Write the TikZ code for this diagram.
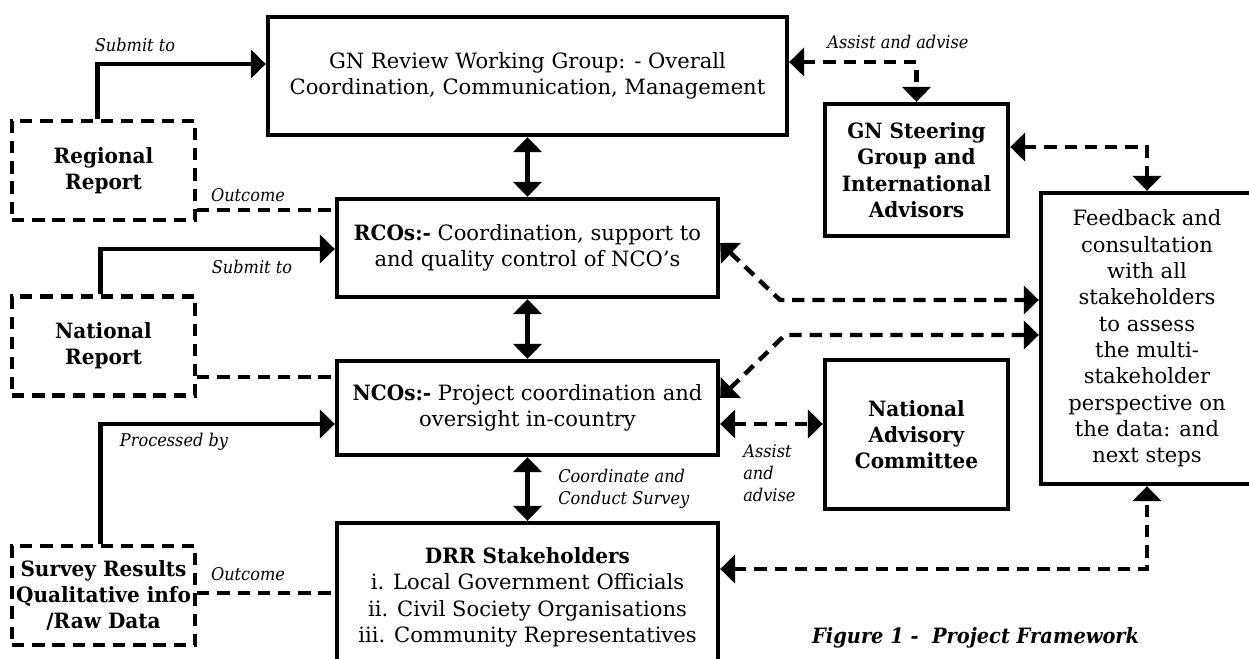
\documentclass[tikz,border=0pt]{standalone}
\usepackage{fontspec}
\setmainfont{DejaVu Serif}[BoldFeatures={FakeStretch=0.95},
  ItalicFeatures={FakeStretch=0.92}, BoldItalicFeatures={FakeStretch=0.92}]
\usetikzlibrary{arrows.meta}

\begin{document}
\begin{tikzpicture}[
  x=0.02cm, y=-0.02cm,
  every node/.style={font=\fontsize{12}{15}\selectfont},
  box/.style={draw, line width=2.5pt, align=center, inner sep=0pt},
  report/.style={box, dash pattern=on 7pt off 4.5pt,
    font=\fontsize{12}{15}\selectfont\bfseries,
    minimum width=3.66cm, minimum height=1.98cm},
  panel/.style={box, font=\fontsize{12}{15}\selectfont\bfseries,
    minimum width=3.66cm},
  lbl/.style={font=\fontsize{10}{12.5}\selectfont\itshape, inner sep=0pt},
  link/.style={line width=2.5pt},
  dlink/.style={link, dash pattern=on 7pt off 4.5pt},
  >={Triangle[length=8.5pt,width=16pt]}]
  \clip (0,0) rectangle (1249,659);
  % middle column
  \node[box, minimum width=10.38cm, minimum height=2.36cm] (gnr) at (527.5,76)
    {GN Review Working Group: - Overall\\ Coordination, Communication, Management};
  \node[box, minimum width=7.62cm, minimum height=1.96cm] (rco) at (527.5,248)
    {\textbf{RCOs:-} Coordination, support to\\ and quality control of NCO's};
  \node[box, minimum width=7.62cm, minimum height=1.88cm] (nco) at (527.5,408)
    {\textbf{NCOs:-} Project coordination and\\ oversight in-country};
  \node[box, minimum width=7.62cm, minimum height=2.98cm] (drr) at (527.5,597.5)
    {\textbf{DRR Stakeholders}\\ i. Local Government Officials\\
     ii. Civil Society Organisations\\ iii. Community Representatives};
  % reports
  \node[report] (rreg) at (103.5,170.5) {Regional\\ Report};
  \node[report] (rnat) at (103.5,346) {National\\ Report};
  \node[report] (rsur) at (103.5,595.5) {Survey Results\\ Qualitative info\\ /Raw Data};
  % right side
  \node[panel, minimum height=2.64cm] (gns) at (916.5,170)
    {GN Steering\\ Group and\\ International\\ Advisors};
  \node[panel, minimum height=2.98cm] (nac) at (916.5,434.5)
    {National\\ Advisory\\ Committee};
  \node[box, minimum width=4.24cm, minimum height=5.82cm] (fb) at (1147,338.5)
    {Feedback and\\ consultation\\ with all\\ stakeholders\\ to assess\\ the multi-\\
     stakeholder\\ perspective on\\ the data: and\\ next steps};

  \draw[link,->] ([xshift=-0.12cm]rreg.north) |- (gnr.west |- 0,64);
  \draw[link,->] ([xshift=-0.06cm]rnat.north) |- (rco.west |- 0,249);
  \draw[link,->] ([xshift=-0.06cm]rsur.north) |- (nco.west |- 0,424);
  \draw[dlink] (rreg.east |- 0,210) -- (rco.west |- 0,210);
  \draw[dlink] (rnat.east |- 0,377) -- (nco.west |- 0,377);
  \draw[dlink] (rsur.east |- 0,593) -- (drr.west |- 0,593);
  \draw[link,<->] (gnr.south) -- (rco.north);
  \draw[link,<->] (rco.south) -- (nco.north);
  \draw[link,<->] (nco.south) -- (drr.north);
  \draw[dlink,<->] (gnr.east |- 0,62) -| (gns.north);
  \draw[dlink,<->] (gns.east |- 0,147) -| (fb.north);
  \draw[dlink,<->] (rco.east |- 0,243) -- (780,300) -- (fb.west |- 0,300);
  \draw[dlink,<->] (nco.east |- 0,398) -- (785,335) -- (fb.west |- 0,335);
  \draw[dlink,<->] (nco.east |- 0,424) -- (nac.west |- 0,424);
  \draw[dlink,<->] (drr.east |- 0,569) -| (fb.south);

  \node[lbl] (l1) at (135,45) {Submit to};
  \node[lbl] (l2) at (248,195) {Outcome};
  \node[lbl] (l3) at (252,267) {Submit to};
  \node[lbl] (l4) at (174,442) {Processed by};
  \node[lbl] (l5) at (248,574) {Outcome};
  \node[lbl, anchor=west, align=left] (l6) at (558,489) {Coordinate and\\ Conduct Survey};
  \node[lbl] (l7) at (898,42) {Assist and advise};
  \node[lbl, anchor=west, align=left] (l8) at (743,473) {Assist\\ and\\ advise};
  \node[font=\fontsize{12}{15}\selectfont\bfseries\itshape, anchor=west] (cap) at (806,638)
    {Figure 1 -~ Project Framework};
\end{tikzpicture}
\end{document}
